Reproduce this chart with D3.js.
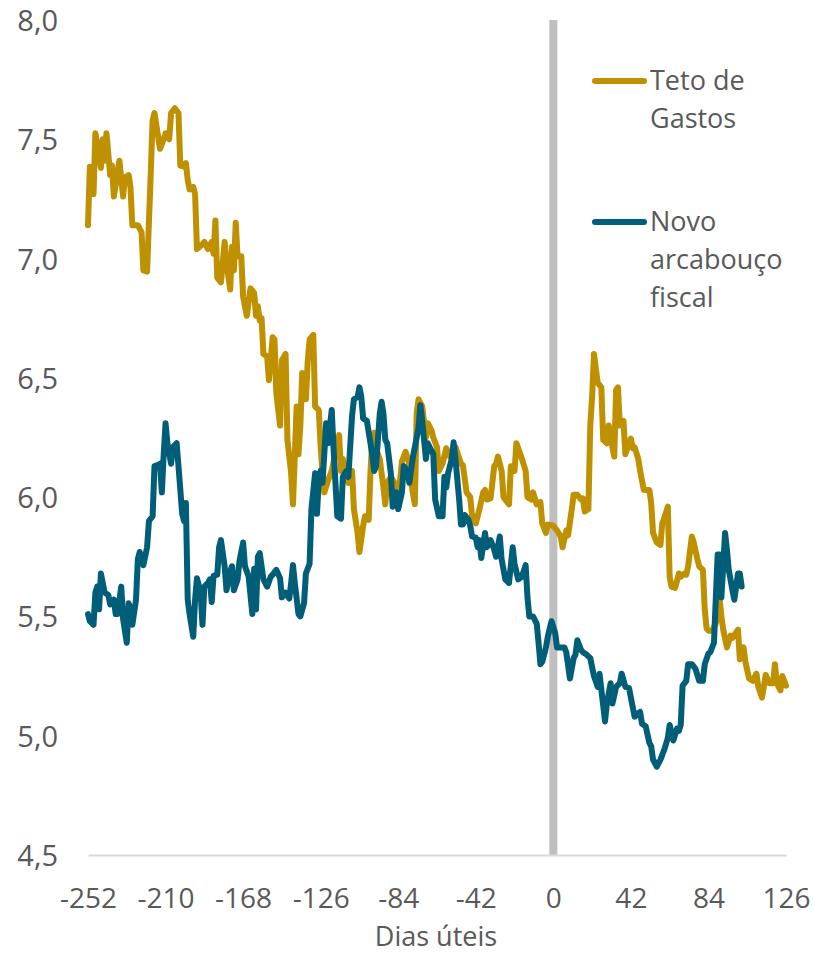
<!DOCTYPE html>
<html>
<head>
<meta charset="utf-8">
<script src="https://cdn.jsdelivr.net/npm/d3@7"></script>
<style>
  html, body { margin: 0; padding: 0; background: #ffffff; }
  svg { display: block; }
  text { font-family: "Open Sans", "Noto Sans", sans-serif; fill: #595959; }
</style>
</head>
<body>
<svg id="chart" width="814" height="953"></svg>
<script>
// Business days relative to the event (day 0)
const xTicks = [-252, -210, -168, -126, -84, -42, 0, 42, 84, 126];
const yTicks = [4.5, 5.0, 5.5, 6.0, 6.5, 7.0, 7.5, 8.0];

const seriesNames = ["Teto de Gastos", "Novo arcabouço fiscal"];

// Teto de Gastos
const tetoDays = [
  -252,-251,-249,-248,-246,-245,-244,-243,-242,-240,-239,-238,-236,-235,-233,-232,-230,-229,-228,-225,
  -223,-222,-220,-218,-217,-216,-213,-211,-210,-208,-207,-205,-203,-202,-200,-199,-198,-197,-195,-194,
  -193,-190,-189,-187,-185,-184,-183,-182,-180,-178,-177,-175,-174,-173,-172,-171,-169,-168,-166,-164,
  -162,-161,-160,-159,-158,-157,-155,-154,-152,-151,-150,-148,-147,-145,-144,-142,-141,-139,-138,-137,
  -136,-134,-133,-132,-130,-129,-127,-126,-125,-124,-122,-120,-116,-115,-114,-113,-111,-109,-108,-106,
  -105,-103,-102,-100,-99,-98,-97,-96,-94,-92,-91,-90,-88,-86,-85,-83,-82,-80,-78,-77,
  -75,-74,-73,-71,-69,-68,-66,-65,-63,-62,-60,-58,-56,-53,-50,-49,-47,-45,-44,-42,
  -40,-38,-37,-36,-34,-32,-31,-30,-28,-27,-24,-23,-21,-20,-19,-17,-15,-14,-12,-11,
  -9,-7,-6,-4,-3,0,2,4,5,7,8,10,11,13,15,16,17,19,20,21,
  22,24,26,27,29,30,31,33,34,35,36,38,39,41,42,43,44,46,47,49,
  50,52,53,54,56,58,59,60,62,63,64,66,68,69,71,72,73,75,76,78,
  79,81,82,83,84,86,88,90,91,92,94,96,97,100,101,103,104,106,108,110,
  111,113,114,115,117,119,120,121,123,124,126
];
const tetoValues = [
  7.14,7.385,7.27,7.525,7.43,7.38,7.50,7.41,7.525,7.35,7.39,7.26,7.36,7.41,7.26,7.34,7.35,7.30,7.14,7.14,
  7.11,6.95,6.945,7.36,7.58,7.61,7.46,7.50,7.525,7.50,7.61,7.63,7.61,7.39,7.385,7.40,7.33,7.29,7.30,7.27,
  7.04,7.06,7.07,7.04,7.07,7.02,7.16,6.92,6.90,7.07,6.98,6.87,7.05,6.95,7.15,7.01,7.01,6.84,6.76,6.875,
  6.855,6.76,6.80,6.74,6.75,6.60,6.59,6.49,6.67,6.66,6.435,6.30,6.575,6.60,6.24,6.10,5.97,6.38,6.18,6.30,
  6.52,6.41,6.57,6.66,6.68,6.38,6.365,6.21,6.10,6.02,6.07,6.11,6.26,6.11,6.16,6.11,6.06,6.11,5.95,5.85,
  5.77,5.88,5.92,5.905,6.11,6.24,6.27,6.20,6.16,6.04,5.97,6.06,6.085,6.06,5.975,6.07,6.15,6.19,6.14,6.06,
  5.97,6.35,6.41,6.38,6.25,6.31,6.28,6.25,6.21,6.11,6.14,6.205,6.17,6.21,6.14,6.135,6.02,6.00,5.92,5.89,
  5.95,6.02,6.03,5.99,5.995,6.13,6.14,6.17,6.11,6.00,5.97,6.13,6.11,6.226,6.205,6.16,6.11,6.00,5.99,6.02,
  5.97,5.98,5.89,5.85,5.885,5.88,5.86,5.835,5.79,5.86,5.84,5.95,6.01,6.01,5.99,5.995,5.94,5.95,6.30,6.42,
  6.60,6.48,6.46,6.24,6.226,6.30,6.25,6.17,6.45,6.46,6.30,6.32,6.18,6.226,6.245,6.205,6.21,6.16,6.11,6.03,
  6.03,6.03,5.975,5.85,5.81,5.80,5.89,5.91,5.96,5.667,5.625,5.62,5.68,5.667,5.68,5.675,5.71,5.835,5.81,5.74,
  5.71,5.695,5.53,5.45,5.44,5.44,5.47,5.58,5.50,5.445,5.37,5.42,5.41,5.445,5.32,5.37,5.31,5.24,5.23,5.26,
  5.205,5.16,5.205,5.255,5.22,5.22,5.30,5.22,5.19,5.25,5.21
];

// Novo arcabouço fiscal
const arcabDays = [
  -252,-251,-249,-248,-247,-246,-245,-243,-241,-240,-238,-237,-236,-234,-233,-231,-230,-229,-228,-226,
  -225,-224,-222,-220,-219,-217,-216,-214,-213,-212,-211,-210,-209,-207,-206,-204,-203,-201,-200,-199,
  -198,-197,-195,-194,-193,-191,-190,-189,-187,-186,-185,-184,-182,-181,-180,-178,-177,-175,-174,-173,
  -171,-170,-168,-167,-165,-163,-162,-161,-160,-159,-157,-155,-153,-152,-150,-148,-147,-145,-143,-142,
  -141,-140,-138,-137,-135,-134,-132,-131,-129,-128,-127,-126,-125,-123,-122,-120,-119,-118,-117,-115,
  -114,-112,-111,-109,-108,-106,-105,-104,-103,-101,-99,-98,-97,-96,-94,-93,-92,-91,-90,-88,
  -87,-85,-84,-82,-81,-79,-78,-76,-75,-73,-72,-71,-69,-68,-67,-65,-64,-62,-60,-59,
  -58,-57,-55,-54,-53,-51,-50,-49,-48,-46,-45,-44,-42,-41,-40,-39,-37,-36,-34,-32,
  -31,-29,-28,-26,-24,-22,-21,-19,-17,-15,-14,-13,-11,-9,-8,-7,-6,-4,-3,-1,
  1,2,4,6,7,9,11,12,13,15,16,18,20,22,24,25,28,29,31,32,
  34,36,37,39,41,43,44,47,48,50,52,53,54,56,58,60,62,63,65,67,
  68,69,70,72,73,75,77,79,81,82,84,85,87,88,89,90,91,92,93,94,
  95,97,98,100,101,102
];
const arcabValues = [
  5.51,5.48,5.465,5.60,5.625,5.53,5.68,5.60,5.59,5.55,5.57,5.51,5.51,5.625,5.49,5.39,5.555,5.53,5.465,5.57,
  5.74,5.77,5.715,5.79,5.90,5.92,6.13,6.135,6.14,6.02,6.18,6.31,6.226,6.14,6.21,6.226,6.13,5.93,5.90,5.975,
  5.57,5.51,5.415,5.57,5.66,5.60,5.465,5.625,5.64,5.655,5.56,5.67,5.675,5.79,5.82,5.71,5.61,5.69,5.71,5.61,
  5.655,5.73,5.81,5.71,5.667,5.51,5.70,5.53,5.75,5.765,5.655,5.625,5.667,5.675,5.695,5.66,5.58,5.60,5.575,5.64,
  5.715,5.64,5.51,5.50,5.555,5.68,5.72,5.95,6.10,5.93,6.07,6.11,6.06,6.31,6.226,6.365,6.20,6.06,5.92,5.91,
  6.085,6.11,6.085,6.34,6.41,6.42,6.46,6.42,6.33,6.32,6.226,6.17,6.11,6.13,6.35,6.40,6.35,6.24,6.226,6.10,
  5.96,6.02,5.95,6.02,6.13,6.11,6.06,6.17,6.21,6.29,6.385,6.32,6.16,6.226,6.21,6.18,5.99,5.92,5.92,6.085,
  6.04,6.10,6.16,6.23,6.16,5.99,5.885,5.885,5.925,5.905,5.88,5.835,5.83,5.79,5.82,5.745,5.85,5.79,5.82,5.78,
  5.75,5.835,5.74,5.655,5.64,5.79,5.72,5.655,5.667,5.715,5.58,5.50,5.50,5.47,5.39,5.30,5.31,5.37,5.415,5.48,
  5.43,5.37,5.37,5.37,5.35,5.24,5.325,5.34,5.40,5.36,5.35,5.34,5.325,5.25,5.205,5.26,5.06,5.135,5.22,5.135,
  5.205,5.22,5.26,5.205,5.20,5.12,5.08,5.10,5.05,5.04,4.97,4.955,4.90,4.87,4.90,4.94,4.99,5.045,4.98,5.03,
  5.02,5.045,5.21,5.23,5.30,5.30,5.28,5.23,5.23,5.30,5.345,5.35,5.39,5.58,5.76,5.76,5.58,5.71,5.85,5.78,
  5.695,5.61,5.57,5.68,5.68,5.625
];

const colors = ["#BF9000", "#005E78"];

const svg = d3.select("#chart");

const x = d3.scaleLinear().domain([-252, 126]).range([88, 786]);
const y = d3.scaleLinear().domain([4.5, 8.0]).range([855, 20]);

const fmtComma = v => d3.format(".1f")(v).replace(".", ",");

// Event marker at day 0
svg.append("rect")
  .attr("x", x(0) - 4)
  .attr("y", y(8.0))
  .attr("width", 8)
  .attr("height", y(4.5) - y(8.0))
  .attr("fill", "#BFBFBF");

// Bottom axis (plain hyphen for negatives)
const xAxis = d3.axisBottom(x).tickValues(xTicks).tickSize(0).tickPadding(0).tickFormat(d => String(d));
const gx = svg.append("g").attr("transform", `translate(0,${y(4.5)})`).call(xAxis);
gx.select(".domain").attr("stroke", "#D9D9D9").attr("stroke-width", 2);
gx.selectAll("text")
  .attr("y", 53)
  .attr("dy", 0)
  .style("font-size", "28px")
  .style("font-family", "'Open Sans', sans-serif")
  .attr("fill", "#595959");

// Left axis (labels only)
const yAxis = d3.axisLeft(y).tickValues(yTicks).tickSize(0).tickPadding(0).tickFormat(fmtComma);
const gy = svg.append("g").attr("transform", "translate(58,0)").call(yAxis);
gy.select(".domain").remove();
gy.selectAll("text")
  .attr("x", 0)
  .attr("dy", "0.36em")
  .style("font-size", "29px")
  .style("font-family", "'Open Sans', sans-serif")
  .attr("fill", "#595959");

// Axis title
svg.append("text")
  .attr("x", 436)
  .attr("y", 946)
  .attr("text-anchor", "middle")
  .style("font-size", "27px")
  .text("Dias úteis");

// Series lines
const line = d3.line()
  .x(d => x(d[0]))
  .y(d => y(d[1]))
  .curve(d3.curveLinear);

const tetoData = d3.zip(tetoDays, tetoValues);
const arcabData = d3.zip(arcabDays, arcabValues);

[tetoData, arcabData].forEach((data, i) => {
  svg.append("path")
    .datum(data)
    .attr("fill", "none")
    .attr("stroke", colors[i])
    .attr("stroke-width", 6)
    .attr("stroke-linejoin", "round")
    .attr("stroke-linecap", "round")
    .attr("d", line);
});

// Legend
const legendItems = [
  { lines: ["Teto de", "Gastos"], color: colors[0], y: 81 },
  { lines: ["Novo", "arcabouço", "fiscal"], color: colors[1], y: 222 }
];
const lg = svg.append("g");
legendItems.forEach(item => {
  lg.append("line")
    .attr("x1", 595).attr("x2", 644)
    .attr("y1", item.y).attr("y2", item.y)
    .attr("stroke", item.color)
    .attr("stroke-width", 6)
    .attr("stroke-linecap", "round");
  item.lines.forEach((t, j) => {
    lg.append("text")
      .attr("x", 650)
      .attr("y", item.y + 9 + j * 38)
      .style("font-size", "27px")
      .text(t);
  });
});
</script>
</body>
</html>
